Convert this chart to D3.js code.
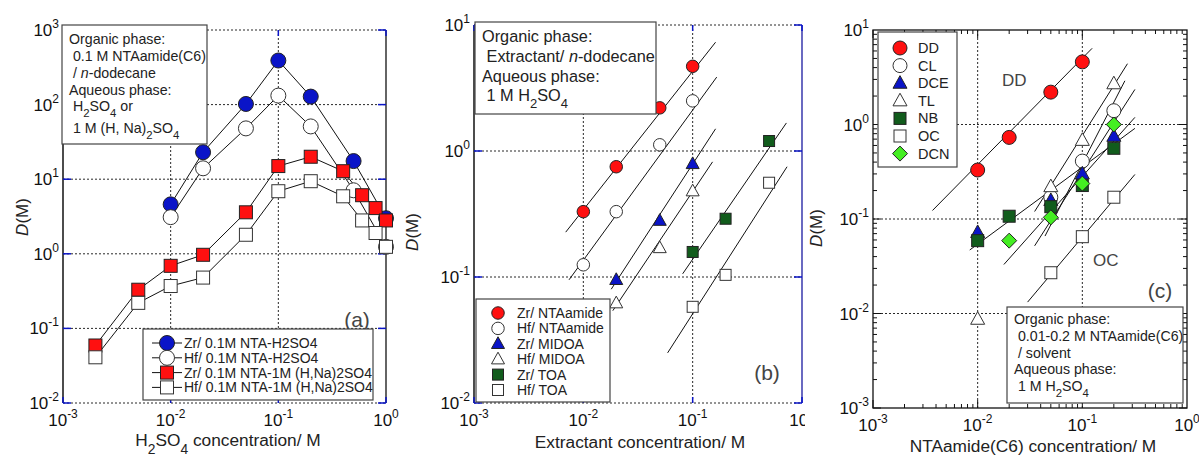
<!DOCTYPE html>
<html>
<head>
<meta charset="utf-8">
<script src="https://cdn.jsdelivr.net/npm/d3@7"></script>
<style>
  html, body { margin: 0; padding: 0; background: #fff; }
  svg { display: block; font-family: "Liberation Sans", Arial, sans-serif; }
</style>
</head>
<body>
<div id="chart"></div>
<script>
// ---- panel (a): D vs H2SO4 concentration ----
const aXAcid = [0.01, 0.02, 0.05, 0.1, 0.2, 0.5, 1.0];
const aZrAcid = [4.6, 23, 102, 390, 128, 17.5, 3.0];
const aHfAcid = [3.1, 14, 48, 132, 51, 7.1, 1.24];
const aXMix = [0.002, 0.005, 0.01, 0.02, 0.05, 0.1, 0.2, 0.4, 0.6, 0.8, 1.0];
const aZrMix = [0.059, 0.33, 0.69, 0.97, 3.6, 15, 20, 12.8, 6.1, 4.1, 2.8];
const aHfMix = [0.041, 0.22, 0.37, 0.48, 1.8, 6.9, 9.4, 5.9, 2.8, 1.9, 1.24];
const aLegend = ["Zr/ 0.1M NTA-H2SO4", "Hf/ 0.1M NTA-H2SO4", "Zr/ 0.1M NTA-1M (H,Na)2SO4", "Hf/ 0.1M NTA-1M (H,Na)2SO4"];
const aNote = ["Organic phase:", " 0.1 M NTAamide(C6)", " / *n*-dodecane", "Aqueous phase:", " H_2SO_4 or", " 1 M (H, Na)_2SO_4"];

// ---- panel (b): D vs extractant concentration ----
const bXNta = [0.01, 0.02, 0.05, 0.1];
const bZrNta = [0.33, 0.75, 2.2, 4.7];
const bHfNta = [0.125, 0.33, 1.12, 2.5];
const bXMidoa = [0.02, 0.05, 0.1];
const bZrMidoa = [0.095, 0.28, 0.79];
const bHfMidoa = [0.062, 0.17, 0.48];
const bXToa = [0.1, 0.2, 0.5];
const bZrToa = [0.158, 0.29, 1.2];
const bHfToa = [0.058, 0.104, 0.56];
// fitted lines: [x1, y1, x2, y2]
const bFits = [
  [0.0069, 0.227, 0.162, 7.3],
  [0.0074, 0.095, 0.166, 3.86],
  [0.018, 0.080, 0.162, 1.5],
  [0.0186, 0.054, 0.152, 0.82],
  [0.081, 0.106, 0.72, 1.67],
  [0.059, 0.025, 0.73, 0.75]
];
const bLegend = ["Zr/ NTAamide", "Hf/ NTAamide", "Zr/ MIDOA", "Hf/ MIDOA", "Zr/ TOA", "Hf/ TOA"];
const bNote = ["Organic phase:", " Extractant/ *n*-dodecane", "Aqueous phase:", " 1 M H_2SO_4"];

// ---- panel (c): D vs NTAamide(C6) concentration in each solvent ----
const cXDD = [0.01, 0.02, 0.05, 0.1];
const cDD = [0.33, 0.73, 2.2, 4.6];
const cXCL = [0.05, 0.1, 0.2];
const cCL = [0.17, 0.41, 1.4];
const cXDCE = [0.01, 0.05, 0.1, 0.2];
const cDCE = [0.072, 0.157, 0.30, 0.75];
const cXTL = [0.01, 0.05, 0.1, 0.2];
const cTL = [0.0087, 0.22, 0.68, 2.7];
const cXNB = [0.01, 0.02, 0.05, 0.1, 0.2];
const cNB = [0.059, 0.107, 0.135, 0.226, 0.56];
const cXOC = [0.05, 0.1, 0.2];
const cOC = [0.027, 0.065, 0.17];
const cXDCN = [0.02, 0.05, 0.1, 0.2];
const cDCN = [0.059, 0.104, 0.237, 1.0];
const cFits = [
  [0.0037, 0.123, 0.124, 6.4],
  [0.035, 0.12, 0.27, 4.4],
  [0.044, 0.066, 0.255, 2.9],
  [0.0178, 0.033, 0.318, 1.19],
  [0.0084, 0.047, 0.318, 0.91],
  [0.035, 0.052, 0.318, 2.35],
  [0.030, 0.0132, 0.318, 0.296]
];
const cLegend = ["DD", "CL", "DCE", "TL", "NB", "OC", "DCN"];
const cNote = ["Organic phase:", " 0.01-0.2 M NTAamide(C6)", " / solvent", "Aqueous phase:", " 1 M H_2SO_4"];

const BLUE = "#0a14c8", RED = "#ff1010", DGREEN = "#115c1c", LGREEN = "#44ee22";

const svg = d3.select("#chart").append("svg")
  .attr("width", 1199).attr("height", 461);

// draw one marker at (x, y)
function marker(g, type, x, y, size, fill) {
  const stroke = fill === "#fff" ? "#333" : "#222";
  if (type === "circle") {
    g.append("circle").attr("cx", x).attr("cy", y).attr("r", size / 2)
      .attr("fill", fill).attr("stroke", stroke).attr("stroke-width", 1);
  } else if (type === "square") {
    g.append("rect").attr("x", x - size / 2).attr("y", y - size / 2)
      .attr("width", size).attr("height", size)
      .attr("fill", fill).attr("stroke", stroke).attr("stroke-width", 1);
  } else if (type === "triangle") {
    const h = size * 0.9;
    g.append("path")
      .attr("d", `M${x},${y - h * 0.6}L${x + size / 2},${y + h * 0.4}L${x - size / 2},${y + h * 0.4}Z`)
      .attr("fill", fill).attr("stroke", stroke).attr("stroke-width", 1);
  } else if (type === "diamond") {
    const r = size / 2;
    g.append("path")
      .attr("d", `M${x},${y - r}L${x + r},${y}L${x},${y + r}L${x - r},${y}Z`)
      .attr("fill", fill).attr("stroke", stroke).attr("stroke-width", 1);
  }
}

// text with _x subscripts and *italic*
function richText(t, str, fs) {
  const re = /(_\w)|(\*[^*]+\*)|([^_*]+)/g;
  let m, low = false;
  while ((m = re.exec(str))) {
    if (m[1]) {
      t.append("tspan").attr("dy", low ? 0 : fs * 0.45).style("font-size", (fs * 0.8) + "px").text(m[1][1]);
      low = true;
    } else {
      const ts = t.append("tspan").attr("dy", low ? -fs * 0.45 : 0).text(m[2] ? m[2].slice(1, -1) : m[3]);
      if (m[2]) ts.style("font-style", "italic");
      low = false;
    }
  }
}

function powLabel(t, e) {
  t.append("tspan").text("10");
  t.append("tspan").attr("dy", -8).style("font-size", "12px").text(e);
}

function noteBox(g, nb) {
  g.append("rect").attr("x", nb.x).attr("y", nb.y).attr("width", nb.w).attr("height", nb.h)
    .attr("fill", "#fff").attr("stroke", "#444").attr("stroke-width", 1.2);
  nb.lines.forEach((s, i) => {
    const t = g.append("text").attr("x", nb.x + 7).attr("y", nb.ys[i])
      .style("font-size", nb.fs + "px").attr("fill", "#222").attr("xml:space", "preserve");
    richText(t, s, nb.fs);
  });
}

function panel(cfg) {
  const g = svg.append("g");
  const x = d3.scaleLog().domain(cfg.xDomain).range(cfg.xRange);
  const y = d3.scaleLog().domain(cfg.yDomain).range(cfg.yRange);
  const [x0, x1] = cfg.xRange, [y0, y1] = cfg.yRange; // y0 bottom, y1 top
  const xMaj = d3.range(Math.log10(cfg.xDomain[0]), Math.log10(cfg.xDomain[1]) + 1).map(e => Math.pow(10, e));
  const yMaj = d3.range(Math.log10(cfg.yDomain[0]), Math.log10(cfg.yDomain[1]) + 1).map(e => Math.pow(10, e));

  if (cfg.bg) g.append("rect").attr("x", cfg.bg[0]).attr("y", 0).attr("width", cfg.bg[1]).attr("height", 461).attr("fill", "#fff");

  // dotted grid
  const grid = g.append("g").attr("stroke", "#111").attr("stroke-width", 0.9).attr("stroke-dasharray", "2,2");
  xMaj.slice(1, -1).forEach(v => grid.append("line").attr("x1", x(v)).attr("x2", x(v)).attr("y1", y1).attr("y2", y0));
  yMaj.slice(1, -1).forEach(v => grid.append("line").attr("x1", x0).attr("x2", x1).attr("y1", y(v)).attr("y2", y(v)));

  // frame
  if (cfg.fullFrame) {
    g.append("rect").attr("x", x0).attr("y", y1).attr("width", x1 - x0).attr("height", y0 - y1)
      .attr("fill", "none").attr("stroke", "#111").attr("stroke-width", 1.3);
    const tk = g.append("g").attr("stroke", "#111").attr("stroke-width", 1);
    const minors = v => d3.range(1, 10).map(k => k * v);
    xMaj.slice(0, -1).forEach(v => minors(v).forEach((m, k) => {
      const L = k === 0 ? 8 : 4;
      tk.append("line").attr("x1", x(m)).attr("x2", x(m)).attr("y1", y0).attr("y2", y0 - L);
      tk.append("line").attr("x1", x(m)).attr("x2", x(m)).attr("y1", y1).attr("y2", y1 + L);
    }));
    yMaj.slice(0, -1).forEach(v => minors(v).forEach((m, k) => {
      const L = k === 0 ? 8 : 4;
      tk.append("line").attr("y1", y(m)).attr("y2", y(m)).attr("x1", x0).attr("x2", x0 + L);
      tk.append("line").attr("y1", y(m)).attr("y2", y(m)).attr("x1", x1).attr("x2", x1 - L);
    }));
  } else {
    const dotted = g.append("g").attr("stroke", "#111").attr("stroke-width", 0.9).attr("stroke-dasharray", "2,2");
    dotted.append("line").attr("x1", x0).attr("x2", x1).attr("y1", y1).attr("y2", y1);
    dotted.append("line").attr("x1", x0).attr("x2", x1).attr("y1", y0).attr("y2", y0);
    g.append("line").attr("x1", x0).attr("x2", x0).attr("y1", y1).attr("y2", y0).attr("stroke", "#111").attr("stroke-width", 1.5);
    g.append("line").attr("x1", x1).attr("x2", x1).attr("y1", y1).attr("y2", y0)
      .attr("stroke", cfg.rightColor || "#111").attr("stroke-width", 1.3);
    const tk = g.append("g").attr("stroke", BLUE).attr("stroke-width", 1.5);
    xMaj.forEach(v => {
      tk.append("line").attr("x1", x(v)).attr("x2", x(v)).attr("y1", y0).attr("y2", y0 - 6);
      tk.append("line").attr("x1", x(v)).attr("x2", x(v)).attr("y1", y1).attr("y2", y1 + 6);
    });
    yMaj.forEach(v => {
      tk.append("line").attr("y1", y(v)).attr("y2", y(v)).attr("x1", x0).attr("x2", x0 + 8);
      tk.append("line").attr("y1", y(v)).attr("y2", y(v)).attr("x1", x1).attr("x2", x1 - 8);
    });
  }

  // tick labels
  xMaj.forEach(v => {
    const t = g.append("text").attr("x", x(v)).attr("y", y0 + 23).attr("text-anchor", "middle")
      .style("font-size", "17px").attr("fill", "#111");
    powLabel(t, Math.round(Math.log10(v)));
  });
  yMaj.forEach(v => {
    const t = g.append("text").attr("x", x0 - 4).attr("y", y(v) + 6).attr("text-anchor", "end")
      .style("font-size", "17px").attr("fill", "#111");
    powLabel(t, Math.round(Math.log10(v)));
  });

  // axis titles
  const xt = g.append("text").attr("x", cfg.xTitlePos[0]).attr("y", cfg.xTitlePos[1]).attr("text-anchor", "middle")
    .style("font-size", "17.3px").attr("fill", "#222");
  richText(xt, cfg.xTitle, 17.3);
  const yt = g.append("text").attr("transform", `translate(${cfg.yTitlePos[0]},${cfg.yTitlePos[1]}) rotate(-90)`)
    .attr("text-anchor", "middle").style("font-size", "17px").attr("fill", "#222");
  yt.append("tspan").style("font-style", "italic").text("D");
  yt.append("tspan").text("(M)");

  // fitted lines
  (cfg.fits || []).forEach(f => g.append("line")
    .attr("x1", x(f[0])).attr("y1", y(f[1])).attr("x2", x(f[2])).attr("y2", y(f[3]))
    .attr("stroke", "#111").attr("stroke-width", 1));

  // series
  cfg.series.forEach(s => {
    if (s.line) {
      g.append("path")
        .attr("d", d3.line().x((d, i) => x(s.x[i])).y(d => y(d))(s.y))
        .attr("fill", "none").attr("stroke", "#111").attr("stroke-width", 1);
    }
  });
  cfg.series.forEach(s => s.y.forEach((v, i) => marker(g, s.type, x(s.x[i]), y(v), s.size, s.fill)));

  // panel tag
  g.append("text").attr("x", cfg.tag[0]).attr("y", cfg.tag[1]).attr("text-anchor", "middle")
    .style("font-size", "21px").attr("fill", "#444").text(cfg.tag[2]);
  (cfg.extraLabels || []).forEach(l => g.append("text").attr("x", l[0]).attr("y", l[1])
    .style("font-size", "17px").attr("fill", "#444").text(l[2]));

  // note box
  noteBox(g, cfg.note);

  // legend
  const lg = cfg.legend;
  g.append("rect").attr("x", lg.x).attr("y", lg.y).attr("width", lg.w).attr("height", lg.h)
    .attr("fill", "#fff").attr("stroke", "#444").attr("stroke-width", 1.2);
  cfg.series.forEach((s, i) => {
    const cy = lg.y + lg.top + i * lg.step;
    if (lg.withLine) g.append("line").attr("x1", lg.mx - 15).attr("x2", lg.mx + 15).attr("y1", cy).attr("y2", cy)
      .attr("stroke", "#111").attr("stroke-width", 1);
    marker(g, s.type, lg.mx, cy, s.size, s.fill);
    g.append("text").attr("x", lg.tx).attr("y", cy + 5).style("font-size", lg.fs + "px").attr("fill", "#222")
      .text(lg.labels[i]);
  });
  return g;
}

panel({
  xDomain: [1e-3, 1], xRange: [63, 386],
  yDomain: [1e-2, 1e3], yRange: [403, 30],
  xTitle: "H_2SO_4 concentration/ M", xTitlePos: [228, 446],
  yTitlePos: [28, 217],
  series: [
    { x: aXAcid, y: aZrAcid, type: "circle", size: 15, fill: BLUE, line: true },
    { x: aXAcid, y: aHfAcid, type: "circle", size: 15, fill: "#fff", line: true },
    { x: aXMix, y: aZrMix, type: "square", size: 13, fill: RED, line: true },
    { x: aXMix, y: aHfMix, type: "square", size: 13, fill: "#fff", line: true }
  ],
  tag: [357, 327, "(a)"],
  note: { lines: aNote, x: 62, y: 25, w: 145, h: 119, fs: 14.2, ys: [44, 61, 78, 95, 111, 133] },
  legend: { x: 143, y: 329, w: 230, h: 71, top: 14, step: 14.8, mx: 167, tx: 184, fs: 14, withLine: true, labels: aLegend }
});

panel({
  xDomain: [1e-3, 1], xRange: [474, 802],
  yDomain: [1e-2, 10], yRange: [403, 25],
  xTitle: "Extractant concentration/ M", xTitlePos: [640, 448],
  yTitlePos: [418, 232], rightColor: "#1a1aa0",
  fits: bFits,
  series: [
    { x: bXNta, y: bZrNta, type: "circle", size: 12.5, fill: RED },
    { x: bXNta, y: bHfNta, type: "circle", size: 12.5, fill: "#fff" },
    { x: bXMidoa, y: bZrMidoa, type: "triangle", size: 13, fill: BLUE },
    { x: bXMidoa, y: bHfMidoa, type: "triangle", size: 13, fill: "#fff" },
    { x: bXToa, y: bZrToa, type: "square", size: 11, fill: DGREEN },
    { x: bXToa, y: bHfToa, type: "square", size: 11, fill: "#fff" }
  ],
  tag: [767, 380, "(b)"],
  note: { lines: bNote, x: 475, y: 22, w: 181, h: 92, fs: 16.3, ys: [42, 62, 82, 101] },
  legend: { x: 476, y: 299, w: 134, h: 103, top: 14, step: 15.4, mx: 498, tx: 517, fs: 14, withLine: false, labels: bLegend }
});

panel({
  xDomain: [1e-3, 1], xRange: [873, 1187],
  yDomain: [1e-3, 10], yRange: [408, 30],
  xTitle: "NTAamide(C6) concentration/ M", xTitlePos: [1033, 452],
  yTitlePos: [822, 228], fullFrame: true, bg: [805, 394],
  fits: cFits,
  series: [
    { x: cXDD, y: cDD, type: "circle", size: 14, fill: RED },
    { x: cXCL, y: cCL, type: "circle", size: 14, fill: "#fff" },
    { x: cXDCE, y: cDCE, type: "triangle", size: 14, fill: BLUE },
    { x: cXTL, y: cTL, type: "triangle", size: 14, fill: "#fff" },
    { x: cXNB, y: cNB, type: "square", size: 12, fill: DGREEN },
    { x: cXOC, y: cOC, type: "square", size: 12, fill: "#fff" },
    { x: cXDCN, y: cDCN, type: "diamond", size: 15, fill: LGREEN }
  ],
  tag: [1160, 298, "(c)"],
  extraLabels: [[1002, 86, "DD"], [1093, 266, "OC"]],
  note: { lines: cNote, x: 1007, y: 307, w: 176, h: 96, fs: 14.2, ys: [324, 341, 358, 374, 391] },
  legend: { x: 878, y: 32, w: 79, h: 135, top: 16, step: 17.6, mx: 900, tx: 918, fs: 14.5, withLine: false, labels: cLegend }
});
</script>
</body>
</html>
